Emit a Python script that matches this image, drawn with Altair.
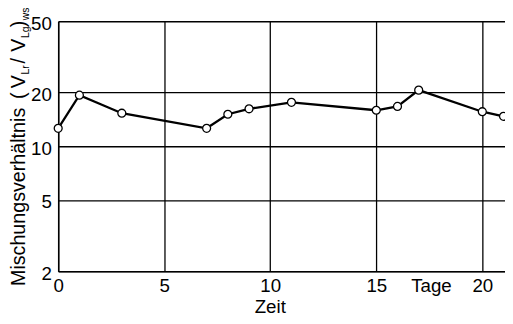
import altair as alt
import pandas as pd

# ---- data ----
days = [0, 1, 3, 7, 8, 9, 11, 15, 16, 17, 20, 21]
ratio = [12.6, 19.3, 15.3, 12.6, 15.1, 16.2, 17.6, 15.9, 16.7, 20.6, 15.6, 14.7]
x_ticks = [0, 5, 10, 15, 20]
y_ticks = [2, 5, 10, 20, 50]
x_title = "Zeit"
unit_label = "Tage"
unit_pos = 17.6
# y title pieces: (text, is_subscript)
y_title_parts = [
    ("Mischungsverhältnis", False),
    ("(", False),
    ("V", False),
    ("Lr", True),
    ("/", False),
    ("V", False),
    ("Lg", True),
    (")", False),
    ("ws", True),
]

df = pd.DataFrame({"Zeit": days, "ratio": ratio})

W, H = 454, 254
X0, Y0 = 59, 19  # plot origin in page pixels (for annotation placement)
FONT = "Liberation Sans"

x_enc = alt.X(
    "Zeit:Q",
    scale=alt.Scale(domain=[0, 21.07], nice=False, zero=False),
    axis=alt.Axis(
        values=x_ticks, title=x_title, grid=True, ticks=False, domain=True,
        labelFont=FONT, labelFontSize=19, labelColor="black", labelPadding=6,
        labelFlush=False, labelOverlap=False,
        titleFont=FONT, titleFontSize=19, titleFontWeight="normal", titleColor="black",
        titleX=215, titleY=42, titleAlign="center", titleBaseline="alphabetic",
        gridColor="black", gridWidth=1.3, gridOpacity=1,
        domainColor="black", domainWidth=1.5,
    ),
)
y_enc = alt.Y(
    "ratio:Q",
    scale=alt.Scale(type="log", domain=[2, 50], nice=False),
    axis=alt.Axis(
        values=y_ticks, title="", grid=True, ticks=False, domain=True,
        labelFont=FONT, labelFontSize=19, labelColor="black", labelPadding=7,
        labelBaseline="middle", labelOffset=2, labelFlush=False, labelOverlap=False,
        gridColor="black", gridWidth=1.3, gridOpacity=1,
        domainColor="black", domainWidth=1.5,
    ),
)

base = alt.Chart(df).encode(x=x_enc, y=y_enc)
line = base.mark_line(color="black", strokeWidth=2.3, clip=False)
pts = base.mark_point(filled=True, fill="white", stroke="black", strokeWidth=1.3,
                      size=65, opacity=1, clip=False)

unit = alt.Chart(pd.DataFrame({"t": [unit_label]})).mark_text(
    font=FONT, fontSize=19, color="black", align="center", baseline="top"
).encode(text="t:N", x=alt.datum(unit_pos), y=alt.value(H + 6))

# y title placement (page pixel starts of each piece along the rotated baseline)
starts = [288, 98, 87, 73, 62, 50, 36, 25, 18]
title_layers = []
for (txt, sub), ys in zip(y_title_parts, starts):
    size = 10.5 if sub else 20
    xb = 29 if sub else 25
    title_layers.append(
        alt.Chart(pd.DataFrame({"t": [txt]})).mark_text(
            angle=270, align="left", baseline="alphabetic", fontSize=size,
            font=FONT, color="black"
        ).encode(text="t:N", x=alt.value(xb - X0), y=alt.value(ys - Y0))
    )

chart = alt.layer(line, pts, unit, *title_layers).properties(
    width=W, height=H,
    autosize=alt.AutoSizeParams(type="none"),
    padding={"left": 51, "top": 11, "right": 0, "bottom": 43},
    background="white",
).configure_view(strokeWidth=0)

chart.save("out.html", embed_options={"renderer": "svg", "actions": False})
